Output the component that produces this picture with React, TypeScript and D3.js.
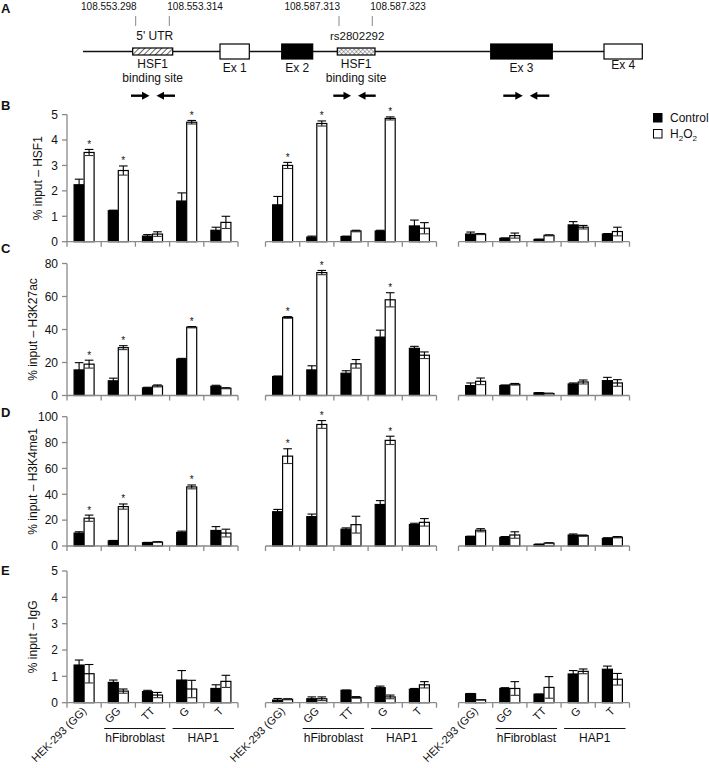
import React, { useEffect, useRef } from 'react';
import * as d3 from 'd3';

// x categories (same order inside each of the three amplicons)
const categories = ['HEK-293 (GG)', 'GG', 'TT', 'G', 'T'];
const cellLines = [
  { label: 'hFibroblast', from: 1, to: 2 },
  { label: 'HAP1', from: 3, to: 4 },
];
const series = ['Control', 'H2O2'];
const amplicons = ['5\' UTR site', 'rs2802292 site', 'Ex 3'];

// values run amplicon by amplicon (5 categories each)
const hsf1Control = [2.24, 1.22, 0.22, 1.6, 0.45, 1.45, 0.18, 0.2, 0.42, 0.62, 0.3, 0.13, 0.09, 0.66, 0.3];
const hsf1ControlErr = [0.22, 0.02, 0.06, 0.32, 0.12, 0.33, 0.04, 0.02, 0.03, 0.23, 0.08, 0.02, 0.01, 0.13, 0.02];
const hsf1H2o2 = [3.51, 2.8, 0.3, 4.7, 0.76, 3.0, 4.65, 0.42, 4.85, 0.53, 0.3, 0.24, 0.25, 0.57, 0.4];
const hsf1H2o2Err = [0.12, 0.18, 0.09, 0.07, 0.24, 0.12, 0.1, 0.03, 0.06, 0.22, 0.02, 0.1, 0.02, 0.07, 0.17];

const k27Control = [15.5, 8.9, 4.6, 22, 5.6, 11.5, 15.5, 13.5, 35.4, 28.6, 6, 6, 1.6, 7, 9];
const k27ControlErr = [4.4, 1.6, 0.4, 0.5, 0.6, 0.3, 2.5, 1.5, 4.2, 1.2, 1.6, 0.4, 0.2, 0.6, 2];
const k27H2o2 = [19, 29, 5.8, 41.4, 4.4, 47.3, 74.5, 19.2, 58, 24.4, 8.6, 6.8, 1.2, 8.2, 7.6];
const k27H2o2Err = [2.4, 1.2, 0.6, 0.4, 0.3, 0.5, 1.3, 2.6, 4.3, 2, 2, 0.5, 0.2, 1.2, 2];

const k4Control = [10, 4, 2.5, 10.5, 12, 26.5, 22.7, 13, 32.1, 16.6, 7.3, 6.6, 1.2, 8.5, 5.9];
const k4ControlErr = [1, 0.3, 0.3, 1, 3, 1.8, 2, 1, 3, 1, 0.3, 0.7, 0.3, 0.8, 0.5];
const k4H2o2 = [21.5, 30.5, 3, 45.7, 10, 69.5, 94, 16.5, 81.7, 18.3, 12.2, 8.5, 2.2, 8, 6.8];
const k4H2o2Err = [2.4, 2, 0.3, 1.5, 3, 5.7, 3, 6.5, 3.2, 2.9, 1.2, 2.5, 0.3, 0.5, 0.5];

const iggControl = [1.43, 0.77, 0.42, 0.86, 0.54, 0.1, 0.15, 0.47, 0.57, 0.51, 0.34, 0.54, 0.32, 1.09, 1.27];
const iggControlErr = [0.19, 0.09, 0.05, 0.36, 0.14, 0.06, 0.07, 0.01, 0.06, 0.03, 0.01, 0.03, 0.01, 0.13, 0.12];
const iggH2o2 = [1.1, 0.44, 0.29, 0.52, 0.81, 0.13, 0.15, 0.2, 0.22, 0.68, 0.11, 0.54, 0.58, 1.19, 0.89];
const iggH2o2Err = [0.35, 0.08, 0.1, 0.33, 0.23, 0.02, 0.07, 0.03, 0.07, 0.12, 0.01, 0.26, 0.41, 0.09, 0.22];

// H2O2 bars marked with an asterisk
const significant = [0, 1, 3, 5, 6, 8];

// gene schematic (panel A), in schematic units along the locus
const geneSpan = [0, 560];
const geneFeatures = [
  { start: 49.7, end: 89.7, kind: 'utr' },
  { start: 137, end: 166.3, kind: 'open', label: 'Ex 1' },
  { start: 198.7, end: 229.7, kind: 'solid', label: 'Ex 2' },
  { start: 254.3, end: 292, kind: 'cross' },
  { start: 407.7, end: 469.3, kind: 'solid', label: 'Ex 3' },
  { start: 521, end: 559.3, kind: 'open', label: 'Ex 4' },
];
const coordMarks = [
  { pos: 52.7, label: '108.553.298', side: 'end' },
  { pos: 86.3, label: '108.553.314', side: 'start' },
  { pos: 256, label: '108.587.313', side: 'end' },
  { pos: 289.3, label: '108.587.323', side: 'start' },
];
const primerPairs = [
  [48, 92],
  [250.3, 292.7],
  [420.3, 466.3],
];

const FONT = '"Liberation Sans", Arial, sans-serif';
const AXIS = '#8a8a8a';

export default function App() {
  const svgRef = useRef<SVGSVGElement>(null);

  useEffect(() => {
    if (!svgRef.current) return;
    const svg = d3.select(svgRef.current);
    svg.selectAll('*').remove();
    svg.attr('font-family', FONT).attr('fill', '#111');

    const label = (t: string, x: number, y: number) =>
      svg.append('text').attr('x', x).attr('y', y).attr('font-size', 13).attr('font-weight', 'bold').text(t);

    // ---------- panel A ----------
    label('A', 1, 13);
    const gx = d3.scaleLinear().domain(geneSpan).range([83, 643]);
    const defs = svg.append('defs');
    const hatch = defs.append('pattern').attr('id', 'hatch').attr('patternUnits', 'userSpaceOnUse')
      .attr('width', 4).attr('height', 4).attr('patternTransform', 'rotate(45)');
    hatch.append('rect').attr('width', 4).attr('height', 4).attr('fill', '#fff');
    hatch.append('line').attr('x1', 0).attr('y1', 0).attr('x2', 0).attr('y2', 4).attr('stroke', '#111').attr('stroke-width', 1.3);
    const cross = defs.append('pattern').attr('id', 'cross').attr('patternUnits', 'userSpaceOnUse')
      .attr('width', 3).attr('height', 3).attr('patternTransform', 'rotate(45)');
    cross.append('rect').attr('width', 3).attr('height', 3).attr('fill', '#fff');
    cross.append('path').attr('d', 'M0,0V3M0,0H3').attr('stroke', '#444').attr('stroke-width', 0.8);

    const lineY = 51.5;
    svg.append('line').attr('x1', gx(geneSpan[0])).attr('x2', gx(geneSpan[1])).attr('y1', lineY).attr('y2', lineY)
      .attr('stroke', '#111').attr('stroke-width', 1.3);
    geneFeatures.forEach(f => {
      const small = f.kind === 'utr' || f.kind === 'cross';
      const h = small ? 7 : 15;
      svg.append('rect').attr('x', gx(f.start)).attr('width', gx(f.end) - gx(f.start))
        .attr('y', lineY - h / 2).attr('height', h)
        .attr('fill', f.kind === 'solid' ? '#000' : f.kind === 'open' ? '#fff' : f.kind === 'utr' ? 'url(#hatch)' : 'url(#cross)')
        .attr('stroke', '#000').attr('stroke-width', 1.2);
      const cx = (gx(f.start) + gx(f.end)) / 2;
      if (f.label) {
        svg.append('text').attr('x', cx).attr('y', f.label === 'Ex 4' ? 68.5 : 72).attr('text-anchor', 'middle')
          .attr('font-size', 12).text(f.label);
      } else {
        svg.append('text').attr('x', cx).attr('y', 68).attr('text-anchor', 'middle').attr('font-size', 12).text('HSF1');
        svg.append('text').attr('x', cx).attr('y', 81.5).attr('text-anchor', 'middle').attr('font-size', 12).text('binding site');
        svg.append('text').attr('x', cx + (f.kind === 'utr' ? 2 : 1)).attr('y', 39.5).attr('text-anchor', 'middle')
          .attr('font-size', f.kind === 'utr' ? 12 : 11.5).text(f.kind === 'utr' ? '5\' UTR' : 'rs2802292');
      }
    });
    coordMarks.forEach(m => {
      svg.append('line').attr('x1', gx(m.pos)).attr('x2', gx(m.pos)).attr('y1', 16).attr('y2', 26)
        .attr('stroke', '#888').attr('stroke-width', 1);
      svg.append('text').attr('x', gx(m.pos) + (m.side === 'end' ? 1 : -2)).attr('y', 9.5).attr('text-anchor', m.side)
        .attr('font-size', 10).text(m.label);
    });
    const arrow = (x1: number, x2: number, y: number) => {
      const dir = Math.sign(x2 - x1);
      svg.append('line').attr('x1', x1).attr('x2', x2 - dir * 6).attr('y1', y).attr('y2', y)
        .attr('stroke', '#000').attr('stroke-width', 2.4);
      svg.append('path').attr('d', `M${x2},${y}L${x2 - dir * 7.5},${y - 4}L${x2 - dir * 7.5},${y + 4}Z`).attr('fill', '#000');
    };
    primerPairs.forEach(([a, b]) => {
      const mid = (gx(a) + gx(b)) / 2;
      arrow(gx(a), mid - 3.5, 95.7);
      arrow(gx(b), mid + 3.5, 95.7);
    });

    // ---------- legend ----------
    svg.append('rect').attr('x', 653.5).attr('y', 113.5).attr('width', 8.5).attr('height', 8.5).attr('fill', '#000').attr('stroke', '#000');
    svg.append('text').attr('x', 670).attr('y', 122).attr('font-size', 12).text(series[0]);
    svg.append('rect').attr('x', 653.5).attr('y', 129.5).attr('width', 8.5).attr('height', 8.5).attr('fill', '#fff').attr('stroke', '#000');
    const h2 = svg.append('text').attr('x', 670).attr('y', 138).attr('font-size', 12);
    h2.append('tspan').text('H');
    h2.append('tspan').attr('font-size', 8).attr('dy', 3).text('2');
    h2.append('tspan').attr('dy', -3).text('O');
    h2.append('tspan').attr('font-size', 8).attr('dy', 3).text('2');

    // ---------- bar panels ----------
    const panels = [
      { id: 'B', title: '% input – HSF1', max: 5, step: 1, base: 241.7, top: 114.6, titleX: 42, labelY: 110,
        control: hsf1Control, controlErr: hsf1ControlErr, h2o2: hsf1H2o2, h2o2Err: hsf1H2o2Err, stars: significant },
      { id: 'C', title: '% input – H3K27ac', max: 80, step: 20, base: 395.5, top: 263.5, titleX: 37, labelY: 253,
        control: k27Control, controlErr: k27ControlErr, h2o2: k27H2o2, h2o2Err: k27H2o2Err, stars: significant },
      { id: 'D', title: '% input – H3K4me1', max: 100, step: 20, base: 546, top: 416.7, titleX: 37, labelY: 416.5,
        control: k4Control, controlErr: k4ControlErr, h2o2: k4H2o2, h2o2Err: k4H2o2Err, stars: significant },
      { id: 'E', title: '% input – IgG', max: 5, step: 1, base: 702.7, top: 571, titleX: 37, labelY: 575,
        control: iggControl, controlErr: iggControlErr, h2o2: iggH2o2, h2o2Err: iggH2o2Err, stars: [] as number[] },
    ];

    const groupStart = [67, 265.5, 458.5];
    const catW = 34.2;

    panels.forEach(p => {
      label(p.id, 1, p.labelY);
      const y = d3.scaleLinear().domain([0, p.max]).range([p.base, p.top]);
      const g = svg.append('g');

      // y axis on first amplicon only
      g.append('line').attr('x1', groupStart[0]).attr('x2', groupStart[0]).attr('y1', y(0)).attr('y2', y(p.max))
        .attr('stroke', AXIS).attr('stroke-width', 1.3);
      d3.range(0, p.max + p.step / 2, p.step).forEach(t => {
        g.append('line').attr('x1', groupStart[0] - 5).attr('x2', groupStart[0]).attr('y1', y(t)).attr('y2', y(t))
          .attr('stroke', AXIS).attr('stroke-width', 1.3);
        g.append('text').attr('x', groupStart[0] - 9).attr('y', y(t)).attr('dy', '0.36em').attr('text-anchor', 'end')
          .attr('font-size', 12).text(t);
      });
      const my = (y(0) + y(p.max)) / 2;
      g.append('text').attr('transform', `translate(${p.titleX},${my}) rotate(-90)`).attr('text-anchor', 'middle')
        .attr('font-size', 12).text(p.title);

      amplicons.forEach((_, gi) => {
        const x = d3.scaleBand().domain(categories).range([groupStart[gi], groupStart[gi] + catW * categories.length]);
        const xs = d3.scaleBand().domain(series).range([0, x.bandwidth()]).paddingOuter(0.71);
        const bw = xs.bandwidth();

        categories.forEach((c, ci) => {
          const i = gi * categories.length + ci;
          series.forEach((s, si) => {
            const v = si === 0 ? p.control[i] : p.h2o2[i];
            const e = si === 0 ? p.controlErr[i] : p.h2o2Err[i];
            const bx = (x(c) as number) + (xs(s) as number);
            g.append('rect').attr('x', bx).attr('width', bw).attr('y', y(v)).attr('height', y(0) - y(v))
              .attr('fill', si === 0 ? '#000' : '#fff').attr('stroke', '#000').attr('stroke-width', 1.2);
            const cx = bx + bw / 2;
            const hi = y(v + e);
            const lo = y(Math.max(0, v - e));
            g.append('line').attr('x1', cx).attr('x2', cx).attr('y1', hi).attr('y2', lo).attr('stroke', '#000').attr('stroke-width', 1.1);
            g.append('line').attr('x1', cx - 4.3).attr('x2', cx + 4.3).attr('y1', hi).attr('y2', hi).attr('stroke', '#000').attr('stroke-width', 1.1);
            g.append('line').attr('x1', cx - 4.3).attr('x2', cx + 4.3).attr('y1', lo).attr('y2', lo).attr('stroke', si === 0 ? '#000' : '#333').attr('stroke-width', 1.1);
            if (si === 1 && p.stars.includes(i)) {
              g.append('text').attr('x', cx).attr('y', hi - 1.5).attr('text-anchor', 'middle').attr('font-size', 10).text('*');
            }
          });
        });

        // x axis of this amplicon
        const [r0, r1] = x.range();
        g.append('line').attr('x1', r0).attr('x2', r1).attr('y1', y(0)).attr('y2', y(0)).attr('stroke', AXIS).attr('stroke-width', 1.3);
        d3.range(categories.length + 1).forEach(k => {
          const tx = r0 + k * x.step();
          g.append('line').attr('x1', tx).attr('x2', tx).attr('y1', y(0)).attr('y2', y(0) + 5).attr('stroke', AXIS).attr('stroke-width', 1.3);
        });

        if (p.id === 'E') {
          categories.forEach(c => {
            const cx = (x(c) as number) + x.bandwidth() / 2;
            g.append('text').attr('transform', `translate(${cx + 3},${y(0) + 9}) rotate(-45)`).attr('text-anchor', 'end')
              .attr('font-size', 11).text(c);
          });
          cellLines.forEach(cl => {
            const a = (x(categories[cl.from]) as number) + 3;
            const b = (x(categories[cl.to]) as number) + x.bandwidth() - 4;
            g.append('line').attr('x1', a).attr('x2', b).attr('y1', 728.5).attr('y2', 728.5).attr('stroke', '#111').attr('stroke-width', 1);
            g.append('text').attr('x', (a + b) / 2).attr('y', 742).attr('text-anchor', 'middle').attr('font-size', 12).text(cl.label);
          });
        }
      });
    });
  }, []);

  return (
    <svg ref={svgRef} width={709} height={768} style={{ position: 'absolute', left: 0, top: 0, background: '#fff' }} />
  );
}
